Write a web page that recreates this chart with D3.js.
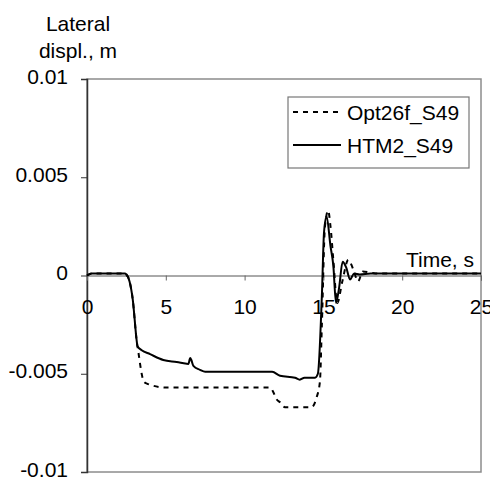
<!DOCTYPE html>
<html><head><meta charset="utf-8">
<script src="https://cdn.jsdelivr.net/npm/d3@7"></script>
<style>
body{margin:0;background:#fff;}
text{font-family:Arial,"Liberation Sans",sans-serif;}
</style></head>
<body><svg id="c" width="490" height="478"></svg>
<script>
const xTicks = [0, 5, 10, 15, 20, 25];
const yTicks = [0.01, 0.005, 0, -0.005, -0.01];
const yTickLabels = ["0.01", "0.005", "0", "-0.005", "-0.01"];
const seriesNames = ["Opt26f_S49", "HTM2_S49"];

const dashT = [0, 0.3, 2.4, 2.5, 2.7, 2.9, 3.15, 3.26, 3.47, 3.6, 3.8, 5.0, 11.6, 11.8, 12.03, 12.25, 12.56, 14.25, 14.57, 14.78, 14.9, 15.1, 15.3, 15.45, 15.63, 15.88, 16.2, 16.58, 16.9, 17.2, 17.5, 17.96, 18.5, 25];
const dashV = [0, 0.0001, 0.0001, 0.00005, -0.0003, -0.0012, -0.0033, -0.0039, -0.005, -0.0054, -0.0055, -0.0057, -0.0057, -0.0059, -0.0063, -0.00645, -0.0067, -0.0067, -0.0062, -0.0054, -0.0026, 0.0025, 0.0033, 0.0025, 0.0008, -0.0014, -0.0003, 0.0008, 0.0003, -0.0003, 0.0002, 0.00015, 0.0001, 0.0001];

const solidT = [0, 0.3, 2.4, 2.5, 2.7, 2.9, 3.15, 3.2, 3.47, 4.0, 4.84, 5.69, 6.43, 6.55, 6.62, 6.75, 7.17, 7.5, 11.75, 12.25, 13.2, 13.5, 13.8, 14.47, 14.65, 14.9, 15.04, 15.2, 15.45, 15.63, 15.8, 16.0, 16.22, 16.45, 16.69, 16.95, 17.3, 18, 25];
const solidV = [0, 0.0001, 0.0001, 0.00005, -0.0003, -0.0012, -0.0033, -0.0036, -0.0038, -0.004, -0.0043, -0.0044, -0.0045, -0.0042, -0.0043, -0.0046, -0.0048, -0.0049, -0.0049, -0.0051, -0.0052, -0.0053, -0.0052, -0.0052, -0.0050, -0.0011, 0.0022, 0.0030, 0.0015, 0.0005, -0.0014, -0.0006, 0.0007, 0.0004, -0.0002, 0.0001, 0.00005, 0.0001, 0.0001];

const svg = d3.select("#c");
const x = d3.scaleLinear().domain([0, 25]).range([87, 481]);
const y = d3.scaleLinear().domain([-0.01, 0.01]).range([472, 79]);
const FS = 21;

// frame
svg.append("rect").attr("x", x(0)).attr("y", y(0.01))
  .attr("width", x(25) - x(0)).attr("height", y(-0.01) - y(0.01))
  .attr("fill", "none").attr("stroke", "#8c8c8c").attr("stroke-width", 1.5);

// y axis
const yAxis = d3.axisLeft(y).tickValues(yTicks).tickSize(6).tickPadding(13)
  .tickFormat((d, i) => yTickLabels[i]);
const gy = svg.append("g").attr("transform", `translate(${x(0)},0)`).call(yAxis);
gy.select(".domain").attr("stroke", "#333").attr("stroke-width", 1.5);
gy.selectAll(".tick line").attr("stroke", "#333");
gy.selectAll(".tick text").attr("font-size", FS).attr("fill", "#000").attr("dy", "0.2em")
  .attr("font-family", "Arial, 'Liberation Sans', sans-serif");

// x axis at zero
const xAxis = d3.axisBottom(x).tickValues(xTicks).tickSize(5).tickPadding(19);
const gx = svg.append("g").attr("transform", `translate(0,${y(0)})`).call(xAxis);
gx.select(".domain").attr("stroke", "#555").attr("stroke-width", 1);
gx.selectAll(".tick line").attr("stroke", "#666");
gx.selectAll(".tick text").attr("font-size", FS).attr("fill", "#000")
  .attr("font-family", "Arial, 'Liberation Sans', sans-serif");

// lines
const line = d3.line().x(d => x(d[0])).y(d => y(d[1])).curve(d3.curveMonotoneX);
const dashData = dashT.map((t, i) => [t, dashV[i]]);
const solidData = solidT.map((t, i) => [t, solidV[i]]);
svg.append("path").datum(dashData).attr("d", line).attr("fill", "none")
  .attr("stroke", "#000").attr("stroke-width", 2).attr("stroke-dasharray", "5,5");
svg.append("path").datum(solidData).attr("d", line).attr("fill", "none")
  .attr("stroke", "#000").attr("stroke-width", 2);

// axis titles
svg.append("text").attr("x", 78).attr("y", 31).attr("text-anchor", "middle").attr("font-size", FS).text("Lateral");
svg.append("text").attr("x", 78).attr("y", 58).attr("text-anchor", "middle").attr("font-size", FS).text("displ., m");
svg.append("text").attr("x", 474).attr("y", 267).attr("text-anchor", "end").attr("font-size", FS).text("Time, s");

// legend
const lg = svg.append("g");
lg.append("rect").attr("x", 288).attr("y", 97).attr("width", 181).attr("height", 71)
  .attr("fill", "#fff").attr("stroke", "#777").attr("stroke-width", 1.2);
const lyPos = [112, 145];
const dashes = ["5,5", null];
seriesNames.forEach((n, i) => {
  const l = lg.append("line").attr("x1", 293).attr("x2", 341).attr("y1", lyPos[i]).attr("y2", lyPos[i])
    .attr("stroke", "#000").attr("stroke-width", 2);
  if (dashes[i]) l.attr("stroke-dasharray", dashes[i]);
  lg.append("text").attr("x", 347).attr("y", lyPos[i] + 8).attr("font-size", FS).text(n);
});
</script></body></html>
